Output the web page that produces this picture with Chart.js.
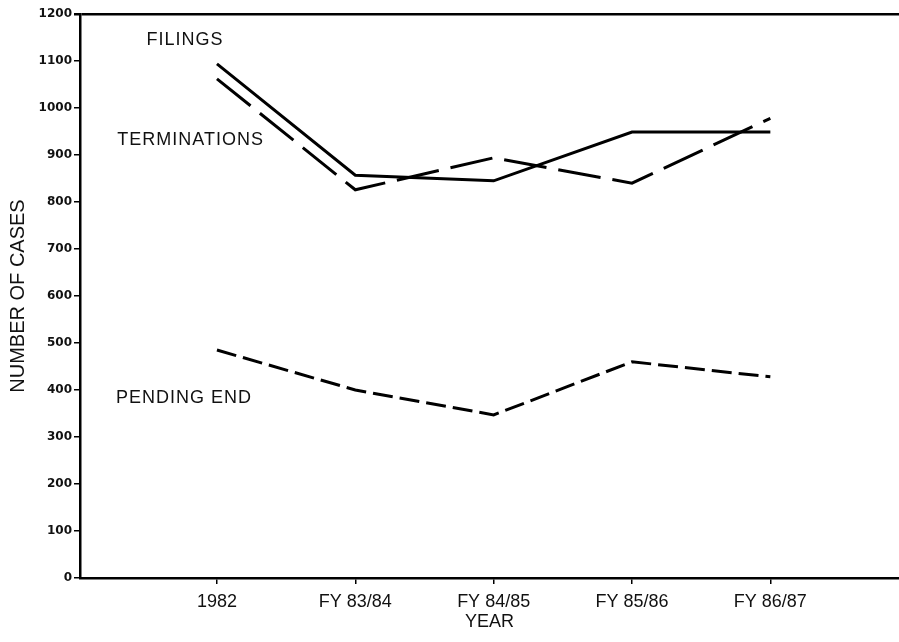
<!DOCTYPE html>
<html>
<head>
<meta charset="utf-8">
<script src="https://cdn.jsdelivr.net/npm/chart.js@4/dist/chart.umd.min.js"></script>
<style>
  html, body { margin: 0; padding: 0; background: #fff; }
  #casesChart { display: block; }
</style>
</head>
<body>
<canvas id="casesChart" width="899" height="642"></canvas>
<script>
var years = ['1982', 'FY 83/84', 'FY 84/85', 'FY 85/86', 'FY 86/87']
var filings = [1094, 857, 845, 949, 949]
var terminations = [1062, 826, 894, 840, 978]
var pendingEnd = [485, 400, 347, 460, 428]
var yTicks = [0, 100, 200, 300, 400, 500, 600, 700, 800, 900, 1000, 1100, 1200]

// series name labels, anchored in data units
var seriesLabels = [
  { text: 'FILINGS', x: -0.51, y: 1145 },
  { text: 'TERMINATIONS', x: -0.72, y: 932 },
  { text: 'PENDING END', x: -0.73, y: 383 }
]

function points(values){
  return values.map(function(v, i){ return { x: i, y: v } })
}

var labelPlugin = {
  id: 'seriesLabels',
  afterDatasetsDraw: function(chart){
    var ctx = chart.ctx
    var xs = chart.scales.x
    var ys = chart.scales.y
    ctx.save()
    ctx.fillStyle = '#111'
    ctx.font = '18px "Liberation Sans", Arial, sans-serif'
    ctx.letterSpacing = '1px'
    ctx.textAlign = 'left'
    ctx.textBaseline = 'middle'
    seriesLabels.forEach(function(l){
      ctx.fillText(l.text, xs.getPixelForValue(l.x), ys.getPixelForValue(l.y))
    })
    ctx.restore()
  }
}

var line = { borderColor: '#000', borderWidth: 3, pointRadius: 0, tension: 0, fill: false }

new Chart(document.getElementById('casesChart'), {
  type: 'line',
  data: {
    datasets: [
      Object.assign({ label: 'FILINGS', data: points(filings) }, line),
      Object.assign({ label: 'TERMINATIONS', data: points(terminations), borderDash: [43, 12] }, line),
      Object.assign({ label: 'PENDING END', data: points(pendingEnd), borderDash: [20, 7] }, line)
    ]
  },
  plugins: [labelPlugin],
  options: {
    responsive: false,
    animation: false,
    devicePixelRatio: 1,
    layout: { padding: { top: 14, right: 0, bottom: 0, left: 0 } },
    plugins: { legend: { display: false }, tooltip: { enabled: false } },
    scales: {
      x: {
        type: 'linear',
        min: -0.99,
        max: 4.93,
        afterBuildTicks: function(scale){
          scale.ticks = years.map(function(y, i){ return { value: i } })
        },
        afterFit: function(scale){ scale.height = 64 },
        border: { color: '#000', width: 2.5 },
        grid: { drawOnChartArea: false, tickLength: 6, tickColor: '#000', lineWidth: 1.5 },
        ticks: {
          autoSkip: false,
          maxRotation: 0,
          padding: 7,
          color: '#111',
          font: { family: '"Liberation Sans", Arial, sans-serif', size: 18 },
          callback: function(v){ return years[v] }
        },
        title: {
          display: true,
          text: 'YEAR',
          color: '#111',
          padding: { top: 0, bottom: 9 },
          font: { family: '"Liberation Sans", Arial, sans-serif', size: 18 }
        }
      },
      y: {
        min: 0,
        max: 1200,
        afterBuildTicks: function(scale){
          scale.ticks = yTicks.map(function(v){ return { value: v } })
        },
        afterFit: function(scale){ scale.width = 80 },
        border: { color: '#000', width: 2.5 },
        grid: {
          tickLength: 6,
          tickColor: '#000',
          lineWidth: function(c){ return c.tick && c.tick.value === 1200 ? 2.5 : 1.5 },
          color: function(c){ return c.tick && c.tick.value === 1200 ? '#000' : 'rgba(0,0,0,0)' }
        },
        ticks: {
          padding: 2,
          color: '#111',
          font: { family: '"DejaVu Sans", sans-serif', size: 12, weight: 'bold' },
          callback: function(v){ return String(v) }
        },
        title: {
          display: true,
          text: 'NUMBER OF CASES',
          color: '#111',
          padding: { top: 6, bottom: 0 },
          font: { family: '"Liberation Sans", Arial, sans-serif', size: 20 }
        }
      }
    }
  }
})
</script>
</body>
</html>
